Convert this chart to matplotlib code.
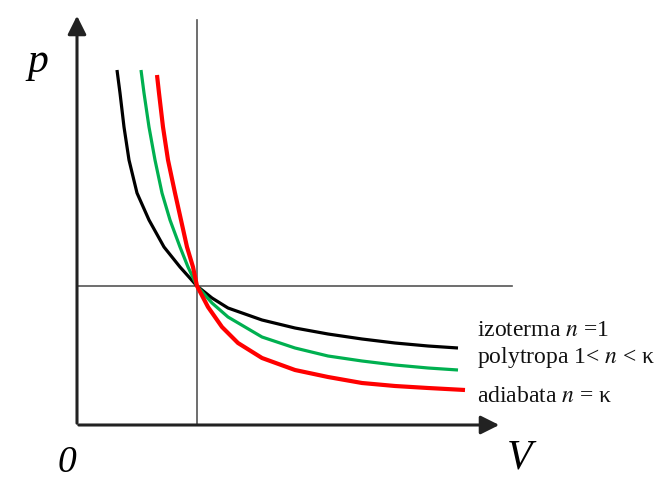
import matplotlib.pyplot as plt

# points (V, p), same arbitrary units as the drawing
iso_V = [40, 43, 47, 52, 60, 72, 87, 103, 120, 135, 151, 185, 218, 251, 285, 318, 351, 381]
iso_p = [355, 332, 298, 265, 232, 205, 178, 158, 139, 127, 117, 105, 97, 91, 86, 82, 79, 77]

poly_V = [64, 67, 72, 78, 85, 93, 103, 111, 120, 135, 151, 185, 218, 251, 285, 318, 351, 381]
poly_p = [355, 332, 298, 265, 232, 205, 178, 158, 139, 122, 108, 88, 77, 69, 64, 60, 57, 55]

adi_V = [80, 82, 86, 91, 98, 104, 110, 116, 120, 131, 145, 161, 185, 218, 251, 285, 318, 351, 388]
adi_p = [350, 332, 298, 265, 232, 205, 178, 158, 139, 118, 98, 82, 67, 55, 48, 42, 39, 37, 35]

V0 = 120
p0 = 139

labels = ['izoterma $n$ =1', 'polytropa 1< $n$ < κ', 'adiabata $n$ = κ']

plt.rcParams['font.family'] = ['Liberation Serif', 'DejaVu Serif']
plt.rcParams['mathtext.fontset'] = 'stix'

fig = plt.figure(figsize=(6.66, 4.83), dpi=100)
ax = fig.add_axes([0, 0, 1, 1])
ax.set_xlim(-77, 589)
ax.set_ylim(-58, 425)
ax.axis('off')

# reference lines through the common state point
ax.plot([V0, V0], [0, 405], color='#555555', lw=1.2, zorder=1)
ax.plot([0, 435], [p0, p0], color='#555555', lw=1.2, zorder=1)

# axes with arrows
ax.annotate('', xy=(0, 412), xytext=(0, -1),
            arrowprops=dict(arrowstyle='-|>', color='#222222', lw=2.2, mutation_scale=28))
ax.annotate('', xy=(425, 0), xytext=(-1, 0),
            arrowprops=dict(arrowstyle='-|>', color='#222222', lw=2.2, mutation_scale=28))

kw = dict(solid_joinstyle='round', solid_capstyle='butt', zorder=3)
ax.plot(iso_V, iso_p, color='black', lw=2.3, **kw)
ax.plot(poly_V, poly_p, color='#00b050', lw=2.3, **kw)
ax.plot(adi_V, adi_p, color='#ff0000', lw=3.0, **kw)

ax.text(-39, 363, 'p', fontsize=30, style='italic', ha='center', va='center')
ax.text(443, -33, 'V', fontsize=30, style='italic', ha='center', va='center')
ax.text(-10, -38, '0', fontsize=27, style='italic', ha='center', va='center')

for y, lab in zip([95, 68, 28], labels):
    ax.text(400, y, lab, fontsize=17, ha='left', va='center', color='#111111')

fig.savefig('out.png', dpi=100)
